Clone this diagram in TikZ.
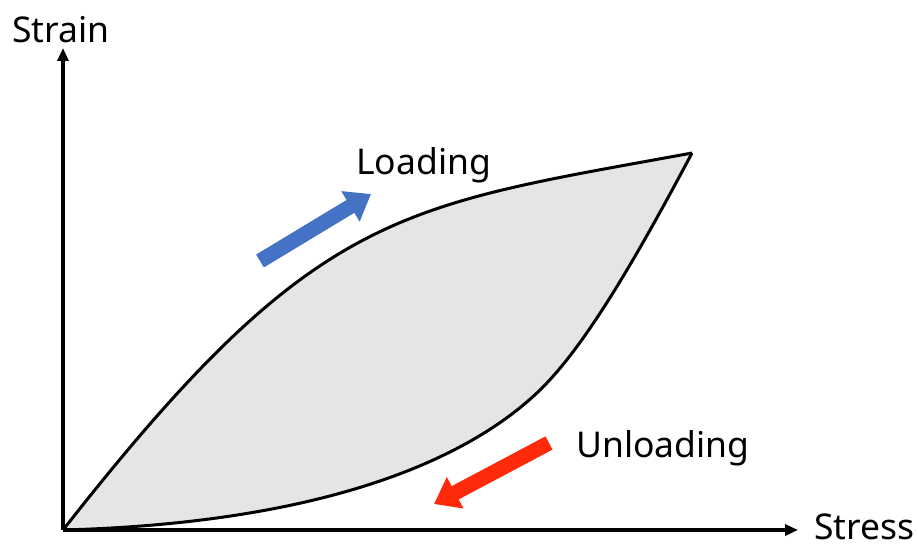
\documentclass[tikz,border=0pt]{standalone}
\usepackage{fontspec}
\setmainfont{Noto Sans}
\usetikzlibrary{arrows.meta}
\definecolor{loopfill}{HTML}{E6E4E4}
\definecolor{loadblue}{HTML}{4472C4}
\definecolor{unloadred}{HTML}{FF2A0A}
\tikzset{
  axis/.style={line width=3.2pt, -{Triangle[length=13pt,width=11pt]}},
  curve/.style={line width=3pt, line join=round},
  blockarrow/.style={line width=15pt, -{Triangle[length=24pt,width=34pt]}},
  lbl/.style={anchor=base west, inner sep=0pt, font=\fontsize{35.5}{38}\selectfont}
}
\begin{document}
\begin{tikzpicture}[x=1pt,y=-1pt]
  \useasboundingbox (0,0) rectangle (918,551);
  % key points of the hysteresis loop
  \coordinate (O) at (63,530);
  \coordinate (P) at (692,153);
  \coordinate (N) at (540,390);
  % shaded loop
  \fill[loopfill] (O) .. controls (316,207) and (398,207) .. (P)
                      .. controls (631,268) and (583,348) .. (N)
                      .. controls (468,460) and (323,523) .. (O) -- cycle;
  % loading branch
  \draw[curve] (O) .. controls (316,207) and (398,207) .. (P);
  % unloading branch
  \draw[curve] (P) .. controls (631,268) and (583,348) .. (N)
                   .. controls (468,460) and (323,523) .. (O);
  % axes
  \coordinate (ytip) at (63,48);
  \coordinate (xtip) at (798,530);
  \draw[axis] (O) -- (ytip);
  \draw[axis] (O) -- (xtip);
  % direction arrows
  \coordinate (bt) at (260,261);
  \coordinate (bh) at (371,194);
  \coordinate (rt) at (549,443);
  \coordinate (rh) at (434,504);
  \draw[blockarrow, draw=loadblue, fill=loadblue] (bt) -- (bh);
  \draw[blockarrow, draw=unloadred, fill=unloadred] (rt) -- (rh);
  % labels
  \node[lbl] (strain) at (12,43) {Strain};
  \node[lbl] (stress) at (814,539) {Stress};
  \node[lbl] (loading) at (356,174) {Loading};
  \node[lbl] (unloading) at (576,457) {Unloading};
\end{tikzpicture}
\end{document}
